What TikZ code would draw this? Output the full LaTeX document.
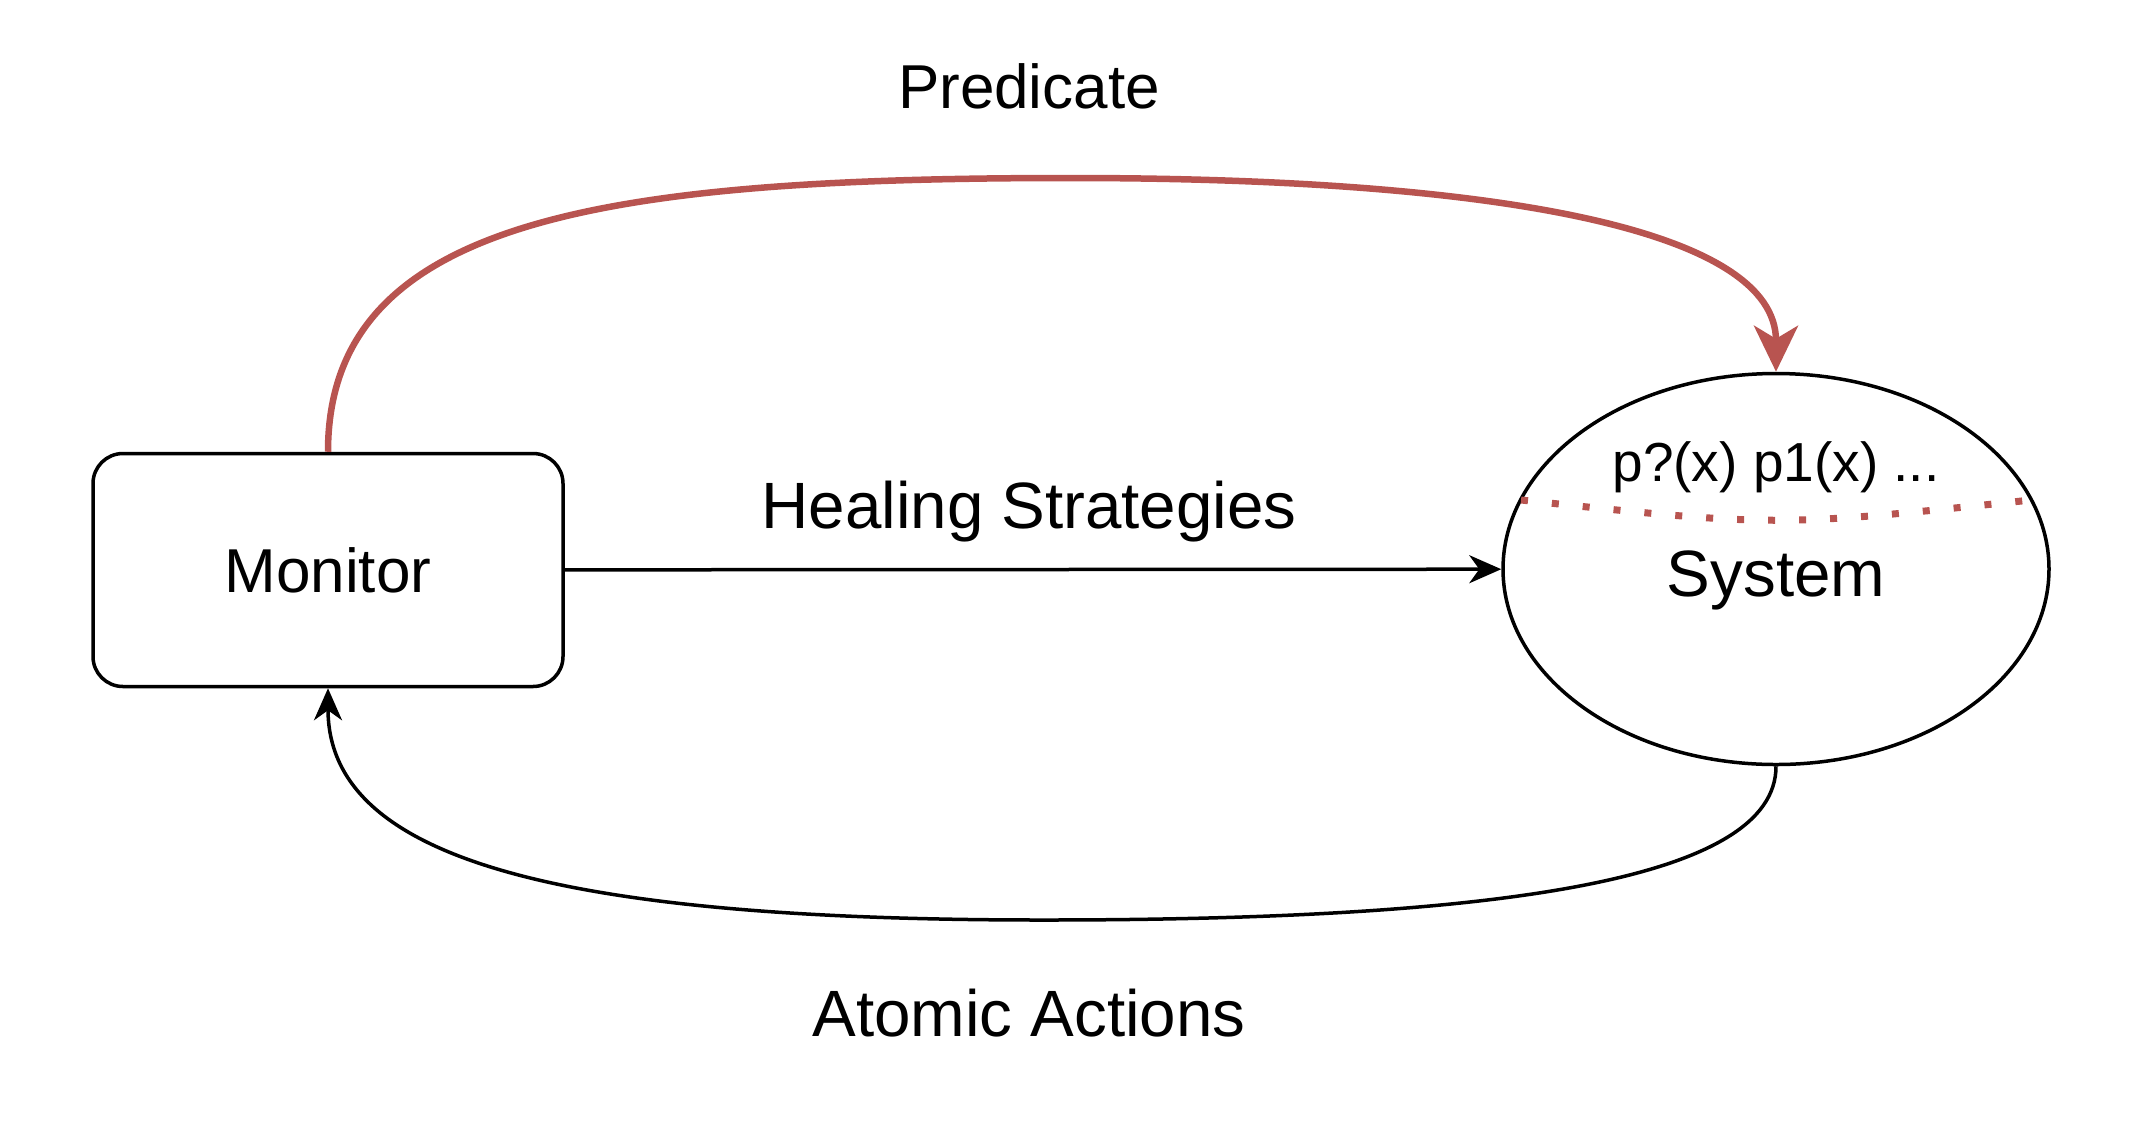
\documentclass[tikz,border=0pt]{standalone}
\usepackage{fontspec}
\setmainfont{Liberation Sans}
\usetikzlibrary{arrows.meta,shapes.geometric}
\definecolor{predred}{HTML}{B85450}
\tikzset{
  box/.style={draw, line width=3.5pt, rounded corners=30pt, minimum width=470pt, minimum height=233pt, inner sep=0pt},
  oval/.style={draw, ellipse, line width=3.5pt, minimum width=546pt, minimum height=391pt, inner sep=0pt},
  conn/.style={line width=3.5pt, -{Stealth[length=32pt, width=28pt, inset=10pt]}},
  predline/.style={line width=6.5pt, predred, -{Stealth[length=46pt, width=44pt, inset=13pt]}},
  big/.style={font=\fontsize{62}{70}\selectfont},
  edgelbl/.style={font=\fontsize{65.5}{72}\selectfont},
  small/.style={font=\fontsize{55}{60}\selectfont}
}
\begin{document}
\begin{tikzpicture}[x=1pt, y=-1pt]
  \useasboundingbox (0,0) rectangle (2152,1120);
  \node[box, big] (mon) at (328,570) {Monitor};
  \node[oval] (sys) at (1776,569) {};
  \node[edgelbl] (systxt) at (1776,580) {System};
  \node[small] (plist) at (1776,467) {p?(x) p1(x) ...};
  % dotted separator inside the ellipse
  \draw[predred, line width=7pt, dash pattern=on 7pt off 24pt] (1521,500) .. controls (1776,527) .. (2031,500);

  \draw[conn] (mon) -- (sys);
  \draw[predline] (mon.north) .. controls (328,220) and (600,178) .. (1070,178)
    .. controls (1500,178) and (1776,230) .. (sys.north);
  \draw[conn] (sys.south) .. controls (1776,880) and (1500,920) .. (1043,920)
    .. controls (560,920) and (328,860) .. (mon.south);

  \node[big] (predlbl) at (1029,86) {Predicate};
  \node[edgelbl] (heallbl) at (1029,512) {Healing Strategies};
  \node[edgelbl] (atomlbl) at (1029,1013) {Atomic Actions};
\end{tikzpicture}
\end{document}
